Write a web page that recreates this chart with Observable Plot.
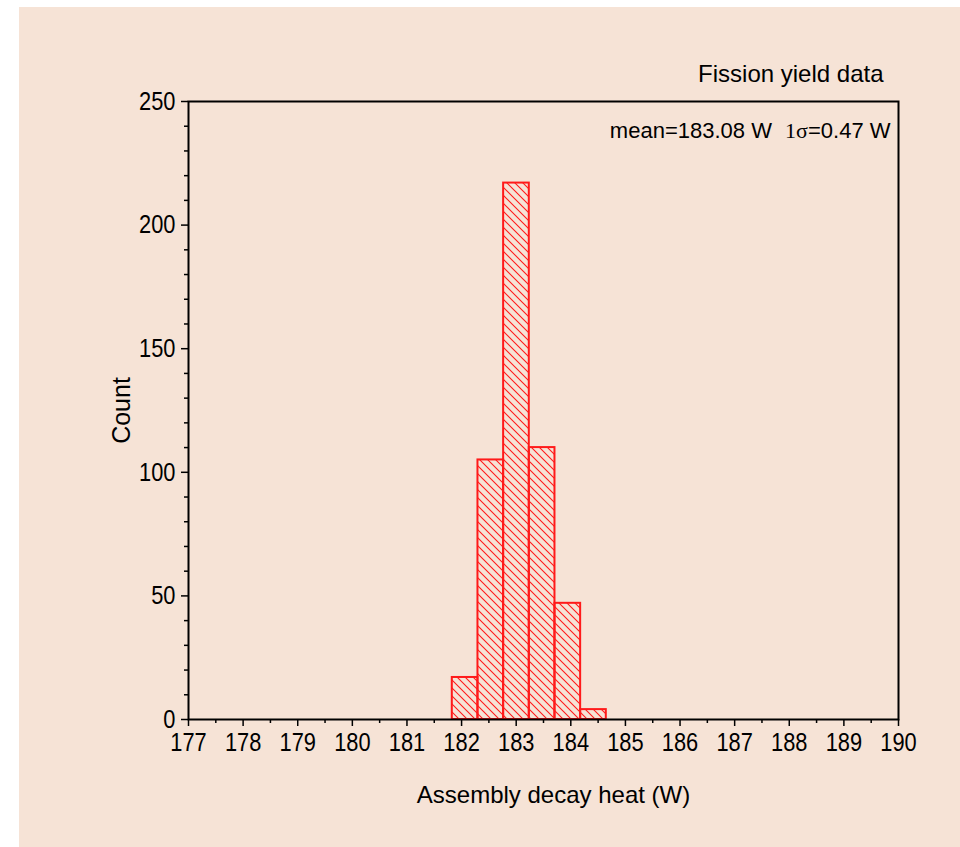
<!DOCTYPE html>
<html>
<head>
<meta charset="utf-8">
<script src="https://cdn.jsdelivr.net/npm/d3@7"></script>
<script src="https://cdn.jsdelivr.net/npm/@observablehq/plot@0.6"></script>
<style>
  html, body { margin: 0; padding: 0; background: #ffffff; }
  #wrap { position: relative; width: 960px; height: 847px; background: #ffffff; }
  #chart { position: absolute; left: 19px; top: 7px; }
  #chart svg { display: block; background: #F6E3D6; }
</style>
</head>
<body>
<div id="wrap"><div id="chart"></div></div>
<script>
// ---- data ----
const binEdges = [181.83, 182.30, 182.77, 183.24, 183.71, 184.18, 184.65];
const counts   = [17, 105, 217, 110, 47, 4];
const xMajorTicks = [177,178,179,180,181,182,183,184,185,186,187,188,189,190];
const xMinorTicks = [177.5,178.5,179.5,180.5,181.5,182.5,183.5,184.5,185.5,186.5,187.5,188.5,189.5];
const yMajorTicks = [0, 50, 100, 150, 200, 250];
const yMinorTicks = [10,20,30,40,60,70,80,90,110,120,130,140,160,170,180,190,210,220,230,240];
const titleText = "Fission yield data";
const statsText = "mean=183.08 W  1σ=0.47 W";
const xLabel = "Assembly decay heat (W)";
const yLabel = "Count";

const bins = counts.map((c, i) => ({x1: binEdges[i], x2: binEdges[i + 1], count: c}));

const font = "'Liberation Sans', Arial, Helvetica, sans-serif";

const svg = Plot.plot({
  width: 941,
  height: 840,
  marginLeft: 169,
  marginRight: 62,
  marginTop: 94,
  marginBottom: 128,
  style: {fontFamily: font, fontSize: "26px", color: "#000", background: "#F6E3D6"},
  x: {domain: [177, 190]},
  y: {domain: [0, 250]},
  marks: [
    Plot.rectY(bins, {x1: "x1", x2: "x2", y: "count", fill: "url(#hatch)", stroke: "#ff1a1a", strokeWidth: 2}),
    Plot.axisX({ticks: xMinorTicks, tickSize: 4, tickFormat: () => "", label: null, strokeWidth: 1.5}),
    Plot.axisX({ticks: xMajorTicks, tickSize: 7, tickPadding: 6, tickFormat: d => String(d), label: null, strokeWidth: 1.5, fontSize: 26}),
    Plot.axisY({ticks: yMinorTicks, tickSize: 4, tickFormat: () => "", label: null, strokeWidth: 1.5}),
    Plot.axisY({ticks: yMajorTicks, tickSize: 7, tickPadding: 6, tickFormat: d => String(d), label: null, strokeWidth: 1.5, fontSize: 26}),
    Plot.frame({stroke: "#000", strokeWidth: 2}),
    Plot.text([titleText], {frameAnchor: "top-right", textAnchor: "end", lineAnchor: "middle", dx: -15, dy: -27, fontSize: 24, fill: "#000"}),
    Plot.text([statsText], {frameAnchor: "top-right", textAnchor: "end", lineAnchor: "middle", dx: -8, dy: 29, fontSize: 22, fill: "#000"}),
    Plot.text([xLabel], {frameAnchor: "bottom", textAnchor: "middle", lineAnchor: "middle", dx: 10, dy: 76, fontSize: 24, fill: "#000"}),
    Plot.text([yLabel], {frameAnchor: "left", textAnchor: "middle", lineAnchor: "middle", rotate: -90, dx: -67, fontSize: 25, fill: "#000"})
  ]
});

// hatch pattern definition
const defs = d3.select(svg).insert("defs", ":first-child");
const pat = defs.append("pattern")
  .attr("id", "hatch")
  .attr("patternUnits", "userSpaceOnUse")
  .attr("width", 8)
  .attr("height", 8);
pat.append("path")
  .attr("d", "M-2,-2 L10,10 M-2,6 L2,10 M6,-2 L10,2")
  .attr("stroke", "#ff1a1a")
  .attr("stroke-width", 1.1)
  .attr("fill", "none");

// narrow (condensed) tick labels like the original
d3.select(svg).selectAll("text").each(function() {
  const s = this.textContent;
  if (/^\d+$/.test(s)) {
    const tr = this.getAttribute("transform") || "";
    this.setAttribute("transform", tr + " scale(0.84,1)");
  }
});

// serif "1σ" in the stats line
d3.select(svg).selectAll("text").each(function() {
  if (this.textContent === statsText) {
    const t = d3.select(this);
    t.text(null);
    t.append("tspan").text("mean=183.08 W");
    t.append("tspan").attr("dx", "0.6em").attr("font-family", "'Liberation Serif', 'Times New Roman', serif").text("1σ");
    t.append("tspan").text("=0.47 W");
  }
});

document.getElementById("chart").appendChild(svg);
</script>
</body>
</html>
